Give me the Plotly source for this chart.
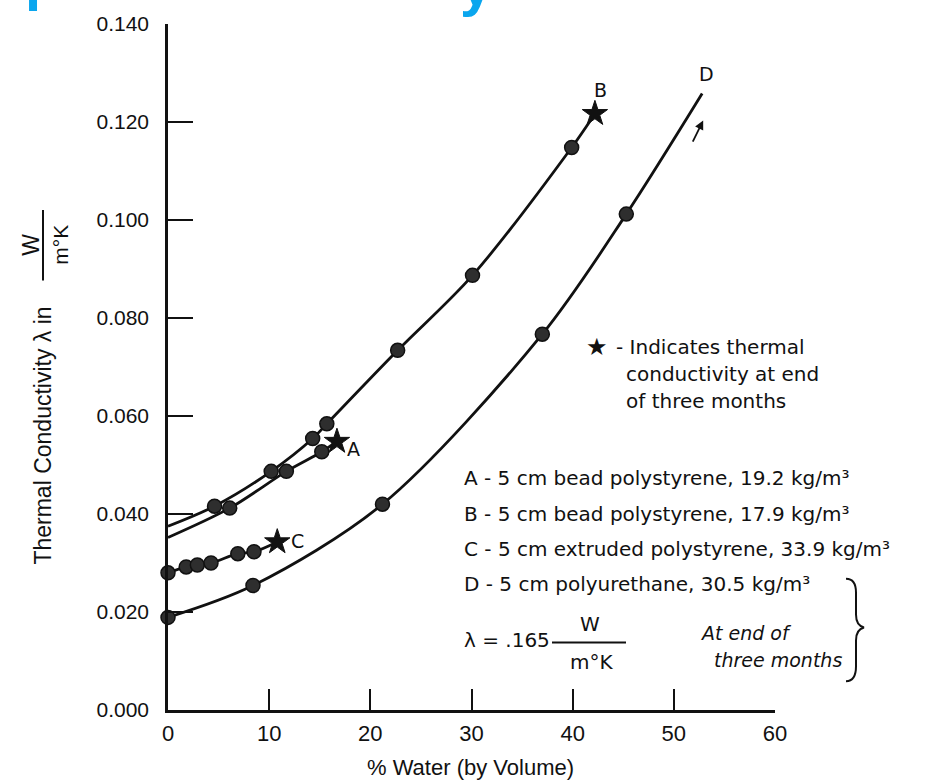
import plotly.graph_objects as go

# ---- axes -------------------------------------------------------------
x_ticks = [0, 10, 20, 30, 40, 50, 60]
y_ticks = [0.000, 0.020, 0.040, 0.060, 0.080, 0.100, 0.120, 0.140]

# ---- measured points (% water by volume, W/m.K) -------------------------
# A - bead polystyrene 19.2 kg/m3
a_x = [6.1, 11.7, 15.2]
a_y = [0.0412, 0.0487, 0.0527]
a_dry = 0.0352              # curve start at 0 % water
a_star_x, a_star_y = 16.7, 0.0548

# B - bead polystyrene 17.9 kg/m3
b_x = [4.6, 10.2, 14.3, 15.7, 22.7, 30.1, 39.9]
b_y = [0.0416, 0.0487, 0.0554, 0.0584, 0.0734, 0.0887, 0.1148]
b_dry = 0.0375
b_star_x, b_star_y = 42.2, 0.1217

# C - extruded polystyrene 33.9 kg/m3
c_x = [0.0, 1.8, 2.9, 4.25, 6.9, 8.5]
c_y = [0.0280, 0.0292, 0.0296, 0.0300, 0.0319, 0.0323]
c_star_x, c_star_y = 10.8, 0.0343

# D - polyurethane 30.5 kg/m3
d_x = [0.0, 8.4, 21.2, 37.0, 45.3]
d_y = [0.0189, 0.0254, 0.0420, 0.0767, 0.1012]
d_end_x, d_end_y = 52.8, 0.1258

legend_lines = [
    "A - 5 cm bead polystyrene, 19.2 kg/m³",
    "B - 5 cm bead polystyrene, 17.9 kg/m³",
    "C - 5 cm extruded polystyrene, 33.9 kg/m³",
    "D - 5 cm polyurethane, 30.5 kg/m³",
]
star_note = ["- Indicates thermal", "conductivity at end", "of three months"]

INK = "#111111"
DOT = "#2e2e2e"
CYAN = "#0aa6ee"
SANS = "Liberation Sans, Arial, sans-serif"
ROUND = "DejaVu Sans, sans-serif"

# plot area in page pixels
L, R, T, B = 168, 775, 20, 710
W_PX, H_PX = 928, 780


def px(xp):
    return (xp - L) / (R - L)


def py(yp):
    return (B - yp) / (B - T)


fig = go.Figure()


def add_series(cx, cy, mx, my, sx=None, sy=None):
    fig.add_trace(go.Scatter(
        x=cx, y=cy, mode="lines", line=dict(color=INK, width=2.8, shape="spline", smoothing=0.9),
        cliponaxis=False, hoverinfo="skip", showlegend=False))
    fig.add_trace(go.Scatter(
        x=mx, y=my, mode="markers", cliponaxis=False, showlegend=False,
        marker=dict(symbol="circle", size=14, color=DOT, line=dict(color=INK, width=1.5))))
    if sx is not None:
        fig.add_trace(go.Scatter(
            x=[sx], y=[sy], mode="markers", cliponaxis=False, showlegend=False,
            marker=dict(symbol="star", size=19, color=INK, line=dict(color=INK, width=1))))


add_series([0] + b_x + [b_star_x], [b_dry] + b_y + [b_star_y], b_x, b_y, b_star_x, b_star_y)
add_series([0] + a_x + [a_star_x], [a_dry] + a_y + [a_star_y], a_x, a_y, a_star_x, a_star_y)
add_series(c_x + [c_star_x], c_y + [c_star_y], c_x, c_y, c_star_x, c_star_y)
add_series(d_x + [d_end_x], d_y + [d_end_y], d_x, d_y)

ann = []


def note(xp, yp, text, size=20, family=ROUND, xanchor="center", angle=0, color=INK):
    ann.append(dict(x=px(xp), y=py(yp), xref="paper", yref="paper", text=text, showarrow=False,
                    xanchor=xanchor, yanchor="middle", textangle=angle,
                    font=dict(family=family, size=size, color=color)))


# curve letters
for text, lx, ly, dx, dy in [("A", a_star_x, a_star_y, 17, -8), ("B", b_star_x, b_star_y, 6, 24),
                             ("C", c_star_x, c_star_y, 20, 1), ("D", d_end_x, d_end_y, 4, 20)]:
    ann.append(dict(x=lx, y=ly, text=text, xshift=dx, yshift=dy, xref="x", yref="y",
                    xanchor="center", yanchor="middle", showarrow=False,
                    font=dict(family=ROUND, size=19, color=INK)))

# small arrow beside curve D
ann.append(dict(x=52.9, y=0.1203, ax=51.8, ay=0.1157, xref="x", yref="y", axref="x", ayref="y",
                showarrow=True, arrowhead=2, arrowsize=1, arrowwidth=1.8, arrowcolor=INK, text=""))

# star note
note(597, 345, "★", size=24)
for i, line in enumerate(star_note):
    note(614 if i == 0 else 624, 345 + 27 * i, line, xanchor="left")

# material list
for i, line in enumerate(legend_lines):
    note(462, 477 + 35.5 * i, line, xanchor="left")

# lambda = .165 W / m°K
note(462, 640, "λ = .165", xanchor="left")
note(590, 624, "W")
note(591, 662, "m°K")
note(698, 633, "<i>At end of</i>", size=19, xanchor="left")
note(844, 660, "<i>three months</i>", size=19, xanchor="right")

# y axis title with unit fraction
note(43, 434, "Thermal Conductivity λ in", size=23, family=SANS, angle=-90)
note(31, 242, "W", size=23, family=SANS, angle=-90)
note(61, 242, "m°K", size=21, family=SANS, angle=-90)

# x axis title
note(470, 768, "% Water (by Volume)", size=22, family=SANS)

# heading running off the top of the page
ann.append(dict(x=px(42), y=py(9), xref="paper", yref="paper", text="<b>p</b>", showarrow=False,
                xanchor="center", yanchor="bottom", font=dict(family=SANS, size=58, color=CYAN)))
ann.append(dict(x=px(476), y=py(15), xref="paper", yref="paper", text="<b>y</b>", showarrow=False,
                xanchor="center", yanchor="bottom", font=dict(family=SANS, size=58, color=CYAN)))

shapes = [
    dict(type="line", xref="paper", yref="paper", x0=px(43), x1=px(43), y0=py(207), y1=py(278),
         line=dict(color=INK, width=2)),
    dict(type="line", xref="paper", yref="paper", x0=px(552), x1=px(626), y0=py(642), y1=py(642),
         line=dict(color=INK, width=2)),
]

brace_pts = "M {a},{b} Q {c},{b} {c},{d} L {c},{e} Q {c},{f} {g},{h} Q {c},{i} {c},{j} L {c},{k} Q {c},{l} {a},{l}"
brace = brace_pts.format(
    a=px(846), b=py(578), c=px(856), d=py(592), e=py(614), f=py(625),
    g=px(864), h=py(627), i=py(629), j=py(640), k=py(666), l=py(681))
shapes.append(dict(type="path", xref="paper", yref="paper", path=brace, line=dict(color=INK, width=2)))

fig.update_layout(
    width=W_PX, height=H_PX,
    margin=dict(l=L, r=W_PX - R, t=T, b=H_PX - B),
    paper_bgcolor="white", plot_bgcolor="white",
    showlegend=False,
    annotations=ann, shapes=shapes,
    xaxis=dict(range=[0, 60], tickvals=x_ticks, ticks="inside", ticklen=21, tickwidth=2,
               tickcolor=INK, showline=True, linecolor=INK, linewidth=2.5, showgrid=False,
               zeroline=False, tickfont=dict(family=SANS, size=22, color=INK),
               ticklabelstandoff=2),
    yaxis=dict(range=[0, 0.14], tickvals=y_ticks, tickformat=".3f", ticks="inside", ticklen=25,
               tickwidth=2, tickcolor=INK, showline=True, linecolor=INK, linewidth=2.5,
               showgrid=False, zeroline=False, tickfont=dict(family=SANS, size=21, color=INK),
               ticklabelstandoff=12),
)

fig.write_html("out.html")
